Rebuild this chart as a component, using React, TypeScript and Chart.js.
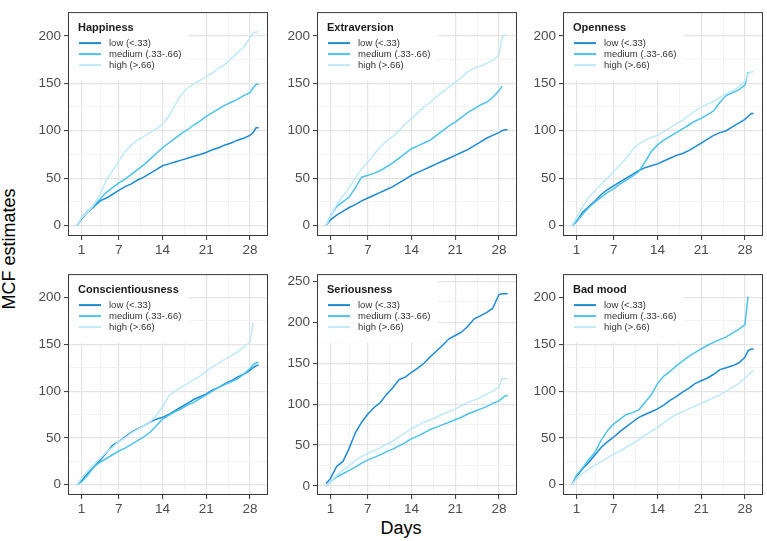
import { useEffect, useRef } from "react"
import { Chart, registerables } from "chart.js"

Chart.register(...registerables)

// x positions of the readings (days); last ones mark the end of each curve
const DAYS = [0.3, 1, 2, 3, 4, 5, 6, 7, 8, 9, 10, 11, 12, 13, 14, 15, 16, 17, 18, 19, 20, 21, 22, 23, 24, 25, 26, 27, 28, 28.5, 29, 29.4]

const GROUPS = ["low (<.33)", "medium (.33-.66)", "high (>.66)"]
const TRAITS = ["Happiness", "Extraversion", "Openness", "Conscientiousness", "Seriousness", "Bad mood"]

const X_MAJOR = [1, 7, 14, 21, 28]
const X_MINOR = [4, 10.5, 17.5, 24.5]
const Y_MAJOR = [0, 50, 100, 150, 200]
const Y_MINOR = [25, 75, 125, 175]
const Y_MAJOR_SER = [0, 50, 100, 150, 200, 250]
const Y_MINOR_SER = [25, 75, 125, 175, 225]

// MCF estimates
const happinessLow = [0, 7, 14, 20, 26, 29, 33, 37, 41, 44, 48, 51, 55, 59, 63, 65, 67, 69, 71, 73, 75, 77, 80, 82, 85, 87, 90, 92, 95, 98, 103, 103]
const happinessMed = [0, 8, 15, 21, 28, 35, 40, 45, 49, 54, 59, 64, 70, 76, 82, 87, 92, 97, 101, 106, 110, 115, 119, 123, 127, 130, 133, 137, 140, 145, 149, 149]
const happinessHigh = [0, 8, 14, 22, 33, 48, 58, 68, 78, 85, 90, 94, 98, 102, 107, 115, 127, 138, 145, 149, 153, 157, 161, 166, 170, 176, 182, 188, 198, 203, 204, 204]

const extraversionLow = [0, 6, 11, 15, 19, 22, 26, 29, 32, 35, 38, 41, 45, 49, 53, 56, 59, 62, 65, 68, 71, 74, 77, 80, 84, 88, 92, 95, 98, 100, 101, 101]
const extraversionMed = [0, 10, 20, 25, 30, 40, 51, 53, 55, 58, 62, 66, 71, 76, 81, 84, 87, 90, 95, 100, 105, 109, 114, 119, 123, 127, 130, 135, 142, 147, null, null]
const extraversionHigh = [0, 10, 22, 31, 40, 50, 60, 67, 75, 83, 89, 94, 100, 107, 113, 119, 125, 130, 136, 141, 146, 151, 156, 162, 166, 168, 171, 174, 180, 198, 202, null]

const opennessLow = [0, 4, 14, 20, 26, 33, 38, 42, 46, 50, 54, 58, 61, 63, 65, 68, 71, 74, 76, 79, 83, 87, 91, 95, 98, 100, 104, 108, 112, 115, 118, 118]
const opennessMed = [0, 4, 12, 19, 25, 30, 35, 39, 44, 48, 52, 57, 67, 78, 85, 90, 94, 98, 102, 106, 110, 113, 117, 121, 130, 137, 140, 143, 148, 162, null, null]
const opennessHigh = [0, 8, 20, 30, 37, 44, 50, 57, 64, 71, 80, 86, 90, 93, 95, 99, 103, 107, 111, 116, 121, 125, 128, 131, 135, 139, 142, 146, 152, 160, 162, 162]

const conscLow = [0, 4, 12, 19, 26, 34, 42, 46, 51, 56, 60, 63, 67, 70, 72, 75, 79, 83, 87, 91, 94, 97, 101, 104, 108, 111, 115, 118, 122, 125, 127, 128]
const conscMed = [0, 3, 10, 19, 24, 28, 32, 36, 39, 43, 47, 51, 56, 63, 70, 74, 78, 81, 85, 88, 92, 96, 100, 104, 107, 110, 113, 118, 124, 128, 130, 131]
const conscHigh = [0, 7, 15, 22, 28, 35, 40, 46, 50, 55, 59, 63, 67, 74, 83, 95, 100, 104, 108, 112, 116, 121, 126, 130, 134, 138, 142, 147, 152, 173, null, null]

const seriousLow = [3, 9, 24, 30, 46, 65, 78, 88, 96, 102, 112, 120, 130, 133, 139, 144, 150, 158, 165, 172, 180, 184, 188, 195, 204, 208, 212, 217, 234, 235, 235, 235]
const seriousMed = [0, 5, 11, 15, 19, 23, 28, 32, 35, 38, 42, 45, 49, 53, 58, 61, 65, 69, 72, 75, 78, 81, 84, 88, 91, 94, 97, 101, 104, 107, 110, 111]
const seriousHigh = [0, 5, 13, 19, 25, 31, 36, 40, 43, 47, 51, 55, 60, 65, 70, 74, 78, 81, 84, 88, 91, 94, 98, 102, 105, 108, 112, 116, 121, 131, 131, 131]

const badMoodLow = [0, 9, 17, 24, 32, 40, 46, 51, 57, 62, 67, 72, 75, 78, 81, 85, 90, 94, 99, 103, 108, 111, 114, 118, 123, 125, 127, 130, 136, 143, 145, 145]
const badMoodMed = [0, 10, 18, 27, 35, 48, 58, 65, 70, 75, 77, 80, 88, 96, 108, 116, 121, 127, 132, 137, 141, 145, 149, 152, 155, 158, 162, 166, 171, 201, null, null]
const badMoodHigh = [0, 6, 12, 17, 21, 25, 29, 33, 36, 40, 44, 48, 53, 57, 61, 66, 71, 75, 78, 81, 84, 87, 90, 93, 96, 100, 104, 108, 114, 117, 120, 122]

const SERIES = [
  [happinessLow, happinessMed, happinessHigh],
  [extraversionLow, extraversionMed, extraversionHigh],
  [opennessLow, opennessMed, opennessHigh],
  [conscLow, conscMed, conscHigh],
  [seriousLow, seriousMed, seriousHigh],
  [badMoodLow, badMoodMed, badMoodHigh],
]

const COLORS = ["#1d8ad2", "#4cc3eb", "#bfe9f8"]
const FONT = '"Liberation Sans", Arial, sans-serif'

// panel boxes (plot area) in page pixels
const COL_LEFT = [68, 317, 563]
const ROW_TOP = [3, 265]
const ROW_HEIGHT = [233, 230]
const PANEL_W = 200
const AXIS_W = 40
const AXIS_H = 22
const PAD = 2

function Panel({ index }: { index: number }) {
  const canvasRef = useRef<HTMLCanvasElement | null>(null)
  const col = index % 3
  const row = Math.floor(index / 3)
  const w = PANEL_W + AXIS_W + PAD
  const h = ROW_HEIGHT[row] + AXIS_H + PAD
  const trait = TRAITS[index]
  const series = SERIES[index]
  const isSer = trait === "Seriousness"
  const yMajor = isSer ? Y_MAJOR_SER : Y_MAJOR
  const yMinor = isSer ? Y_MINOR_SER : Y_MINOR

  useEffect(() => {
    if (!canvasRef.current) return
    const ctx = canvasRef.current.getContext("2d")
    if (!ctx) return

    const isMajor = (vals: number[]) => (c: any) => c.tick && vals.includes(c.tick.value)

    const facetPlugin = {
      id: "facet",
      beforeDatasetsDraw(chart: Chart) {
        const { ctx: g, chartArea: a } = chart
        g.save()
        g.fillStyle = "#ffffff"
        g.fillRect(a.left + 0.5, a.top + 0.5, 120, 68)
        g.textBaseline = "middle"
        g.textAlign = "left"
        g.fillStyle = "#1a1a1a"
        g.font = `bold 11px ${FONT}`
        g.fillText(trait, a.left + 10, a.top + 15.5)
        GROUPS.forEach((label, i) => {
          const y = a.top + 31 + i * 11
          g.strokeStyle = COLORS[i]
          g.lineWidth = 2
          g.beginPath()
          g.moveTo(a.left + 11, y)
          g.lineTo(a.left + 33, y)
          g.stroke()
          g.fillStyle = "#333333"
          g.font = `9.5px ${FONT}`
          g.fillText(label, a.left + 41, y + 0.5)
        })
        g.restore()
      },
      afterDatasetsDraw(chart: Chart) {
        const { ctx: g, chartArea: a } = chart
        g.save()
        g.strokeStyle = "#3a3a3a"
        g.lineWidth = 1
        g.strokeRect(a.left + 0.5, a.top + 0.5, a.right - a.left - 1, a.bottom - a.top - 1)
        g.restore()
      },
    }

    const chart = new Chart(ctx, {
      type: "line",
      data: {
        datasets: [2, 1, 0].map((i) => ({
          label: GROUPS[i],
          data: DAYS.map((d, k) => ({ x: d, y: series[i][k] })) as any,
          borderColor: COLORS[i],
          borderWidth: 1.5,
          tension: 0,
          pointRadius: 0,
          fill: false,
          spanGaps: false,
        })),
      },
      options: {
        animation: false,
        responsive: false,
        maintainAspectRatio: false,
        events: [],
        layout: { padding: { top: PAD, right: PAD, left: 0, bottom: 0 } },
        plugins: { legend: { display: false }, tooltip: { enabled: false } },
        scales: {
          x: {
            type: "linear",
            min: -1.15,
            max: 30.9,
            afterBuildTicks: (scale: any) => {
              scale.ticks = [...X_MAJOR, ...X_MINOR].map((v) => ({ value: v }))
            },
            afterFit: (scale: any) => {
              scale.height = AXIS_H
            },
            ticks: {
              autoSkip: false,
              maxRotation: 0,
              padding: 2,
              color: "#4d4d4d",
              font: { family: FONT, size: 13.5 },
              callback: (v: any) => (X_MAJOR.includes(Number(v)) ? String(v) : ""),
            },
            grid: {
              color: (c: any) => (isMajor(X_MAJOR)(c) ? "#e4e4e4" : "#f0f0f0"),
              lineWidth: (c: any) => (isMajor(X_MAJOR)(c) ? 1.2 : 0.8),
              tickColor: (c: any) => (isMajor(X_MAJOR)(c) ? "#333333" : "rgba(0,0,0,0)"),
              tickWidth: 1,
              tickLength: 4,
            },
            border: { display: false },
          },
          y: {
            type: "linear",
            min: -11,
            max: isSer ? 259 : 225,
            afterBuildTicks: (scale: any) => {
              scale.ticks = [...yMajor, ...yMinor].map((v) => ({ value: v }))
            },
            afterFit: (scale: any) => {
              scale.width = AXIS_W
            },
            ticks: {
              autoSkip: false,
              padding: 3,
              color: "#4d4d4d",
              font: { family: FONT, size: 13.5 },
              callback: (v: any) => (yMajor.includes(Number(v)) ? String(v) : ""),
            },
            grid: {
              color: (c: any) => (isMajor(yMajor)(c) ? "#e4e4e4" : "#f0f0f0"),
              lineWidth: (c: any) => (isMajor(yMajor)(c) ? 1.2 : 0.8),
              tickColor: (c: any) => (isMajor(yMajor)(c) ? "#333333" : "rgba(0,0,0,0)"),
              tickWidth: 1,
              tickLength: 4,
            },
            border: { display: false },
          },
        },
      },
      plugins: [facetPlugin],
    })

    return () => {
      chart.destroy()
    }
  }, [])

  return (
    <canvas
      ref={canvasRef}
      width={w}
      height={h}
      style={{
        position: "absolute",
        left: COL_LEFT[col] - AXIS_W,
        top: ROW_TOP[row] - PAD,
        width: w,
        height: h,
      }}
    />
  )
}

export default function App() {
  return (
    <div
      style={{
        position: "fixed",
        left: 0,
        top: 0,
        width: 767,
        height: 541,
        background: "#ffffff",
        fontFamily: FONT,
        overflow: "hidden",
      }}
    >
      {TRAITS.map((t, i) => (
        <Panel key={t} index={i} />
      ))}
      <div
        style={{
          position: "absolute",
          left: 8.5 - 100,
          top: 249 - 10,
          width: 200,
          height: 20,
          lineHeight: "20px",
          textAlign: "center",
          fontSize: 18,
          color: "#000",
          transform: "rotate(-90deg)",
        }}
      >
        MCF estimates
      </div>
      <div
        style={{
          position: "absolute",
          left: 401 - 50,
          top: 528 - 10,
          width: 100,
          height: 20,
          lineHeight: "20px",
          textAlign: "center",
          fontSize: 18,
          color: "#000",
        }}
      >
        Days
      </div>
    </div>
  )
}
